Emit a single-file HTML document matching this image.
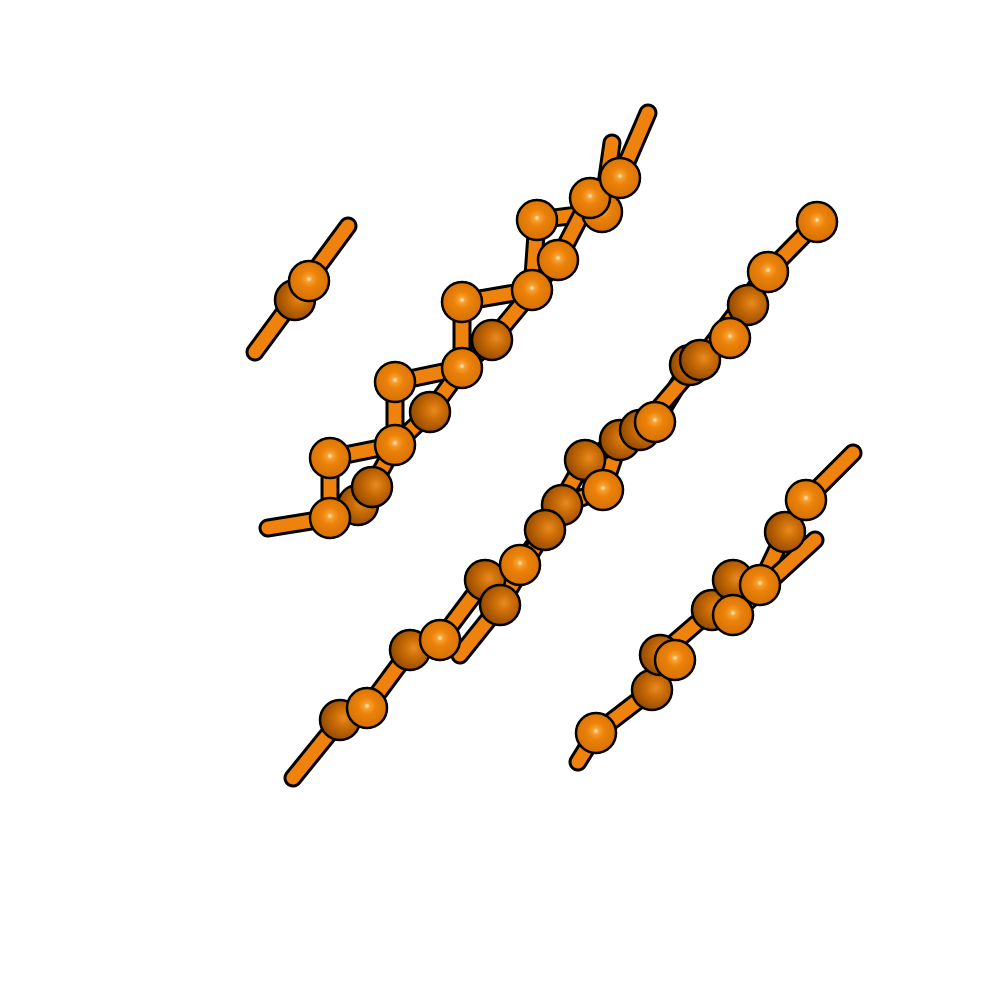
<!DOCTYPE html>
<html><head><meta charset="utf-8"><title>Molecule</title>
<style>html,body{margin:0;padding:0;background:#fff;width:1000px;height:1000px;overflow:hidden}</style>
</head><body>
<svg id="mol" width="1000" height="1000" viewBox="0 0 1000 1000" xmlns="http://www.w3.org/2000/svg">
<defs>
<radialGradient id="ball" cx="0.5" cy="0.45" r="0.6">
<stop offset="0" stop-color="#fff4d0"/><stop offset="0.12" stop-color="#f7a030"/><stop offset="0.35" stop-color="#ec820a"/><stop offset="0.85" stop-color="#d87204"/><stop offset="1" stop-color="#b05800"/>
</radialGradient>
<radialGradient id="ballDark" cx="0.6" cy="0.45" r="0.65">
<stop offset="0" stop-color="#e88a20"/><stop offset="0.4" stop-color="#c86a04"/><stop offset="1" stop-color="#8a4400"/>
</radialGradient>
</defs>
</svg>
<script>
// atoms: x, y, depth flag (1 = back / shaded)
const atomX = [295,309, 268,330,330,395,395,462,462,532,537,602,612, 358,372,430,492,558,590,620,648,
  293,340,367,410,440,485,520,562,603,620,655,690,730,748,768,817, 460,500,545,585,640,700,765,
  578,596,652,675,660,712,733,733,760,785,806,853,815];
const atomY = [300,281, 528,518,458,445,382,368,302,290,220,212,143, 505,487,412,340,260,198,178,113,
  778,720,708,650,640,580,565,505,490,440,422,365,338,305,272,222, 655,605,530,460,430,360,275,
  762,733,690,660,655,610,580,615,585,532,500,453,540];
const atomDark = [1,0, 0,0,0,0,0,0,0,0,0,0,0, 1,1,1,1,0,0,0,0,
  0,1,0,1,0,1,0,1,0,1,0,1,0,1,0,0, 0,1,1,1,1,1,0,
  1,0,1,0,1,1,1,0,0,1,0,0,0];
const stickOnly = [2,12,20,21,37,43,44,55,56];
const bondA = [0, 2,3,4,5,6,7,8,9,10,11, 13,14,5,15,7,16,17,18,19,
  21,22,23,24,25,26,27,28,29,30,31,32,33,34,35, 37,38,39,40,41,42,
  44,45,46,47,48,49,50,51,52,53,54];
const bondB = [1, 3,4,5,6,7,8,9,10,11,12, 14,5,15,7,16,17,18,19,20,
  22,23,24,25,26,27,28,29,30,31,32,33,34,35,36, 38,39,40,41,42,43,
  45,46,47,48,49,50,51,52,53,54,55];

const NS = 'http://www.w3.org/2000/svg';
const svg = document.getElementById('mol');
function bond(x1,y1,x2,y2){
  const g = document.createElementNS(NS,'g');
  
  
  const o = document.createElementNS(NS,'line');
  o.setAttribute('x1',x1);o.setAttribute('y1',y1);o.setAttribute('x2',x2);o.setAttribute('y2',y2);
  o.setAttribute('stroke','#000');o.setAttribute('stroke-width',19);o.setAttribute('stroke-linecap','round');
  const i = document.createElementNS(NS,'line');
  i.setAttribute('x1',x1);i.setAttribute('y1',y1);i.setAttribute('x2',x2);i.setAttribute('y2',y2);
  i.setAttribute('stroke','#ee820c');i.setAttribute('stroke-width',13);i.setAttribute('stroke-linecap','round');
  g.appendChild(o);g.appendChild(i);svg.appendChild(g);
}
for(let k=0;k<bondA.length;k++){
  bond(atomX[bondA[k]],atomY[bondA[k]],atomX[bondB[k]],atomY[bondB[k]]);
}
bond(255,352,348,226);
bond(atomX[51],atomY[51],815,540);
function atom(k){
  const c = document.createElementNS(NS,'circle');
  
  
  c.setAttribute('cx',atomX[k]);c.setAttribute('cy',atomY[k]);c.setAttribute('r',20);
  c.setAttribute('fill',atomDark[k]?'url(#ballDark)':'url(#ball)');
  c.setAttribute('stroke','#000');c.setAttribute('stroke-width',2.5);
  svg.appendChild(c);
}
for(let k=0;k<atomX.length;k++){ if(!stickOnly.includes(k) && atomDark[k]) atom(k); }
for(let k=0;k<atomX.length;k++){ if(!stickOnly.includes(k) && !atomDark[k]) atom(k); }
</script>
</body></html>
